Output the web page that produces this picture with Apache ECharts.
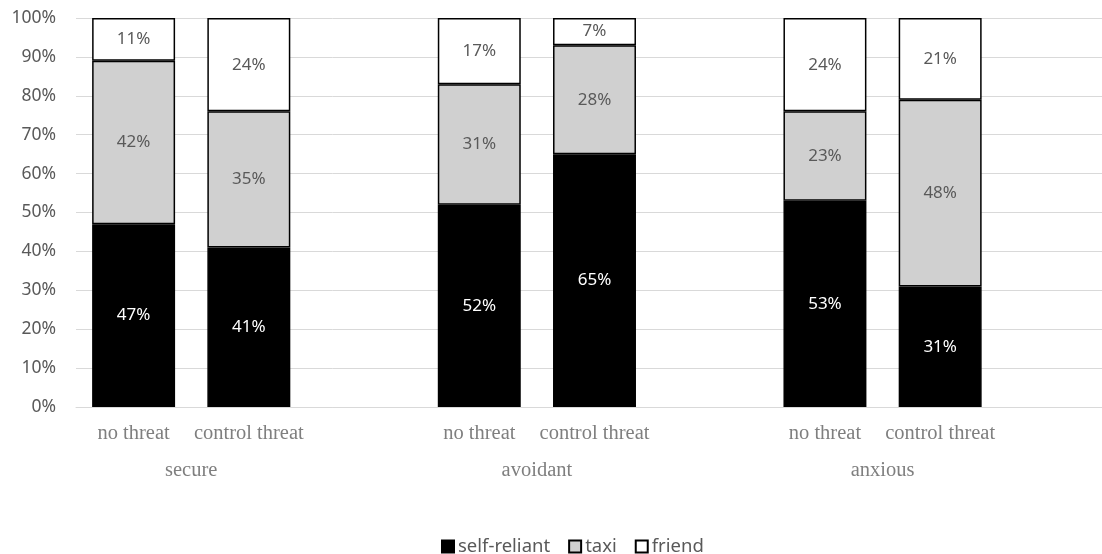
<!DOCTYPE html>
<html><head><meta charset="utf-8">
<script src="https://cdn.jsdelivr.net/npm/echarts@6/dist/echarts.min.js"></script>
<style>html,body{margin:0;padding:0;background:#fff}#c{width:1102px;height:554px}</style>
</head><body><div id="c"></div>
<script>
const categories = ['no threat','control threat','','no threat','control threat','','no threat','control threat',''];
const groups = ['secure','avoidant','anxious'];
const selfReliant = [47, 41, null, 52, 65, null, 53, 31, null];
const taxi        = [42, 35, null, 31, 28, null, 23, 48, null];
const friend      = [11, 24, null, 17, 7, null, 24, 21, null];
const yTicks = [0,10,20,30,40,50,60,70,80,90,100];

const chart = echarts.init(document.getElementById('c'));
const sansFont = 'Noto Sans';
const labelBase = {show:true, position:'inside', fontFamily:sansFont, fontSize:17, formatter: p => p.value == null ? '' : p.value + '%'};
chart.setOption({
  animation:false,
  grid:{left:76, width:1037, top:18, height:389, outerBoundsMode:'none', containLabel:false},
  legend:{
    top:532, left:436, itemWidth:12, itemHeight:12, itemGap:18, icon:'rect',
    textStyle:{color:'#595959', fontFamily:sansFont, fontSize:18.5, padding:[0,0,0,-1]},
    data:['self-reliant','taxi','friend']
  },
  xAxis:[{
    type:'category', data:categories, position:'bottom',
    axisLine:{lineStyle:{color:'#d9d9d9', width:1}}, axisTick:{show:false},
    axisLabel:{color:'#7f7f7f', fontFamily:'Liberation Serif', fontSize:20.5, margin:16, interval:0}
  },{
    type:'value', min:0, max:9, interval:1, position:'bottom', offset:37,
    axisLine:{show:false}, axisTick:{show:false}, splitLine:{show:false},
    axisLabel:{color:'#7f7f7f', fontFamily:'Liberation Serif', fontSize:20.5, margin:16,
      formatter: v => ({1:groups[0],4:groups[1],7:groups[2]})[v] || ''}
  }],
  yAxis:{
    type:'value', min:yTicks[0], max:yTicks[yTicks.length-1], interval:10,
    axisLine:{show:false}, axisTick:{show:false},
    splitLine:{lineStyle:{color:'#d9d9d9', width:1}},
    axisLabel:{color:'#595959', fontFamily:sansFont, fontSize:17.5, margin:20, formatter:'{value}%'}
  },
  series:[
    {name:'self-reliant', type:'bar', stack:'s', data:selfReliant, barCategoryGap:'28%',
     itemStyle:{color:'#000000', borderColor:'#000000', borderWidth:1.5},
     label:Object.assign({color:'#ffffff'}, labelBase)},
    {name:'taxi', type:'bar', stack:'s', data:taxi,
     itemStyle:{color:'#d0d0d0', borderColor:'#000000', borderWidth:1.5},
     label:Object.assign({color:'#595959'}, labelBase)},
    {name:'friend', type:'bar', stack:'s', data:friend,
     itemStyle:{color:'#ffffff', borderColor:'#000000', borderWidth:1.5},
     label:Object.assign({color:'#595959'}, labelBase)}
  ]
});
</script></body></html>
